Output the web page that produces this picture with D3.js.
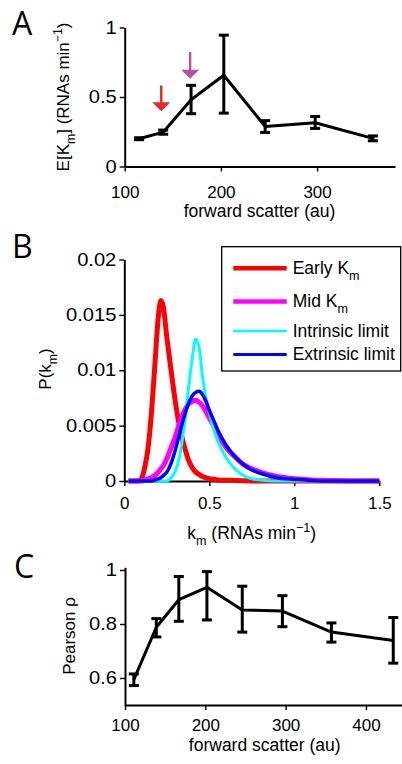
<!DOCTYPE html>
<html>
<head>
<meta charset="utf-8">
<script src="https://cdn.jsdelivr.net/npm/d3@7"></script>
<style>
  body { margin: 0; background: #fff; }
  svg { display: block; }
  text { font-family: "Liberation Sans", Arial, Helvetica, sans-serif; fill: #000; }
</style>
</head>
<body>
<svg id="fig" width="402" height="764"></svg>
<script>
'use strict'

// ---------------------------------------------------------------- DATA ----

// panel A : mean K_m vs forward scatter
const fsA   = [115, 140, 169, 203, 246, 298, 358]
const meanA = [0.200, 0.247, 0.480, 0.656, 0.288, 0.315, 0.202]
const loA   = [0.193, 0.232, 0.380, 0.384, 0.245, 0.274, 0.185]
const hiA   = [0.207, 0.262, 0.584, 0.945, 0.330, 0.360, 0.220]
const arrowX    = [138, 168]
const arrowFrom = [0.583, 0.824]
const arrowTo   = [0.398, 0.632]
const arrowColors = ['#e8262a', '#b5529e']

// panel B : distributions of k_m
const kGrid = [0.025, 0.05, 0.08, 0.1, 0.12, 0.14, 0.16, 0.18, 0.2, 0.215, 0.23, 0.25, 0.275,
  0.3, 0.325, 0.35, 0.375, 0.4, 0.42, 0.44, 0.46, 0.48, 0.5, 0.525, 0.55, 0.6, 0.65,
  0.7, 0.75, 0.8, 0.9, 1.0, 1.1, 1.2, 1.35, 1.5]
const pEarly = [0, 0, 0, 0.0002, 0.0012, 0.0030, 0.0062, 0.0105, 0.0148, 0.0163, 0.0157, 0.0130, 0.0100,
  0.0072, 0.0049, 0.0033, 0.0020, 0.0012, 0.0008, 0.0006, 0.0004, 0.0003, 0.0002, 0.00015, 0.0001, 0.00007, 0.00004,
  0.00002, 0, 0, 0, 0, 0, 0, 0, 0]
const pMid = [0, 0, 0, 0, 0.0001, 0.0002, 0.0003, 0.0005, 0.0008, 0.0011, 0.0014, 0.0020, 0.0030,
  0.0040, 0.0052, 0.0062, 0.0069, 0.0072, 0.0073, 0.0071, 0.0068, 0.0063, 0.0057, 0.0050, 0.0042, 0.0030, 0.0022,
  0.0015, 0.0011, 0.0008, 0.0004, 0.0002, 0.0001, 0.00005, 0, 0]
const pIntrinsic = [0, 0, 0, 0, 0, 0, 0, 0, 0, 0, 0, 0, 0.0003,
  0.0009, 0.0022, 0.0047, 0.0080, 0.0111, 0.0128, 0.0121, 0.0094, 0.0075, 0.0062, 0.0047, 0.0036, 0.0021, 0.0011,
  0.0005, 0.0002, 0.0001, 0, 0, 0, 0, 0, 0]
const pExtrinsic = [0, 0, 0, 0, 0, 0, 0, 0.0001, 0.0002, 0.0003, 0.0005, 0.0008, 0.0016,
  0.0028, 0.0043, 0.0057, 0.0069, 0.0077, 0.0080, 0.0081, 0.0078, 0.0072, 0.0064, 0.0055, 0.0046, 0.0032, 0.0022,
  0.0015, 0.0010, 0.0007, 0.0003, 0.00015, 0.00005, 0, 0, 0]
const seriesNames  = ['Early K', 'Mid K', 'Intrinsic limit', 'Extrinsic limit']
const seriesSubs   = ['m', 'm', '', '']
const seriesColors = ['#ff0000', '#ff00ff', '#00ffff', '#0000ff']
const seriesWidths = [5, 5, 3, 3.5]

// panel C : Pearson rho vs forward scatter
const fsC  = [111, 139, 167, 202, 246, 296, 357, 434]
const rhoC = [0.594, 0.788, 0.890, 0.936, 0.852, 0.848, 0.770, 0.739]
const loC  = [0.572, 0.752, 0.810, 0.815, 0.770, 0.790, 0.733, 0.655]
const hiC  = [0.615, 0.820, 0.976, 0.994, 0.940, 0.905, 0.804, 0.824]

// ---------------------------------------------------------------- SETUP ---

const svg = d3.select('#fig')
const fmt = d3.format('~g')

function drawAxes(g, x, y, o) {
  let xg = g.append('g').attr('transform', 'translate(0,' + y.range()[0] + ')')
  xg.call(d3.axisBottom(x).tickValues(o.xMinor).tickSize(2.5).tickFormat(''))
  xg.select('.domain').remove()
  xg.call(d3.axisBottom(x).tickValues(o.xTicks).tickSize(5).tickSizeOuter(0)
    .tickPadding(o.xPad).tickFormat(fmt))

  let yg = g.append('g').attr('transform', 'translate(' + x.range()[0] + ',0)')
  yg.call(d3.axisLeft(y).tickValues(o.yMinor).tickSize(2.5).tickFormat(''))
  yg.select('.domain').remove()
  yg.call(d3.axisLeft(y).tickValues(o.yTicks).tickSize(5).tickSizeOuter(0)
    .tickPadding(3).tickFormat(fmt))

  g.selectAll('.domain').attr('stroke', '#000').attr('stroke-width', 2)
  g.selectAll('.tick line').attr('stroke', '#000').attr('stroke-width', 1.4)
  g.selectAll('.tick text').style('font-size', '17px')
    .style('font-family', '"Liberation Sans", Arial, sans-serif').attr('fill', '#000')

  // y tick labels are drawn a little wider in the original
  let s = 1.15
  yg.selectAll('.tick text').style('font-size', '17.5px')
    .attr('transform', 'scale(' + s + ',1)').attr('x', -8 / s)
}

// text with sub / superscript pieces: [text, 'sub'|'sup'|'']
function richText(t, parts, size) {
  let shift = 0
  parts.forEach(p => {
    let target = p[1] == 'sub' ? 6 : p[1] == 'sup' ? -7 : 0
    t.append('tspan')
      .attr('dy', target - shift)
      .style('font-size', p[1] ? (size * 0.72) + 'px' : size + 'px')
      .text(p[0])
    shift = target
  })
}

function errorPanel(g, x, y, xs, mean, lo, hi) {
  let pts = xs.map((v, i) => ({ x: v, m: mean[i], lo: lo[i], hi: hi[i] }))
  g.append('path').datum(pts)
    .attr('fill', 'none').attr('stroke', '#000').attr('stroke-width', 3)
    .attr('stroke-linejoin', 'round')
    .attr('d', d3.line().x(d => x(d.x)).y(d => y(d.m)))
  let eb = g.selectAll('.eb').data(pts).enter().append('g')
    .attr('stroke', '#000').attr('stroke-width', 3)
  eb.append('line').attr('x1', d => x(d.x)).attr('x2', d => x(d.x))
    .attr('y1', d => y(d.lo)).attr('y2', d => y(d.hi))
  eb.append('line').attr('x1', d => x(d.x) - 5).attr('x2', d => x(d.x) + 5)
    .attr('y1', d => y(d.lo)).attr('y2', d => y(d.lo))
  eb.append('line').attr('x1', d => x(d.x) - 5).attr('x2', d => x(d.x) + 5)
    .attr('y1', d => y(d.hi)).attr('y2', d => y(d.hi))
}

function panelLetter(txt, x, y) {
  svg.append('text').attr('x', x).attr('y', y)
    .style('font-family', '"Open Sans", "DejaVu Sans", sans-serif')
    .style('font-size', '32px').text(txt)
}

// ------------------------------------------------------------- PANEL A ----

const xA = d3.scaleLinear().domain([100, 381]).range([124.7, 395])
const yA = d3.scaleLinear().domain([0, 1]).range([166.5, 27.5])
const gA = svg.append('g')

drawAxes(gA, xA, yA, {
  xTicks: [100, 200, 300], xMinor: d3.range(100, 381, 10), xPad: 14,
  yTicks: [0, 0.5, 1], yMinor: d3.range(0, 1.001, 0.05)
})
errorPanel(gA, xA, yA, fsA, meanA, loA, hiA)

arrowX.forEach((ax, i) => {
  let px = xA(ax), y0 = yA(arrowFrom[i]), y1 = yA(arrowTo[i])
  gA.append('line').attr('x1', px).attr('x2', px).attr('y1', y0).attr('y2', y1 - 8)
    .attr('stroke', arrowColors[i]).attr('stroke-width', 2.4)
  gA.append('path')
    .attr('d', 'M' + (px - 9) + ',' + (y1 - 9) + 'L' + (px + 9) + ',' + (y1 - 9) + 'L' + px + ',' + y1 + 'Z')
    .attr('fill', arrowColors[i])
})

gA.append('text').attr('x', 259.5).attr('y', 217).attr('text-anchor', 'middle')
  .style('font-size', '17.5px').text('forward scatter (au)')
richText(gA.append('text').attr('transform', 'translate(68.5,97) rotate(-90)')
  .attr('text-anchor', 'middle'),
  [['E[K', ''], ['m', 'sub'], ['] (RNAs min', ''], ['\u22121', 'sup'], [')', '']], 17)
panelLetter('A', 12, 35)

// ------------------------------------------------------------- PANEL B ----

const xB = d3.scaleLinear().domain([0, 1.5]).range([124.3, 379.3])
const yB = d3.scaleLinear().domain([0, 0.02]).range([481, 259.5])
const gB = svg.append('g')

drawAxes(gB, xB, yB, {
  xTicks: [0, 0.5, 1, 1.5], xMinor: d3.range(0, 1.5001, 0.05), xPad: 11,
  yTicks: [0, 0.005, 0.01, 0.015, 0.02], yMinor: d3.range(0, 0.02001, 0.0005)
})

const curves = [pEarly, pMid, pIntrinsic, pExtrinsic]
const kLine = d3.line().curve(d3.curveMonotoneX).x(d => xB(d[0])).y(d => yB(d[1]))
curves.forEach((vals, i) => {
  gB.append('path').datum(kGrid.map((k, j) => [k, vals[j]]))
    .attr('fill', 'none').attr('stroke', seriesColors[i])
    .attr('stroke-width', seriesWidths[i]).attr('stroke-linejoin', 'round')
    .attr('d', kLine)
})

// legend
const leg = gB.append('g')
leg.append('rect').attr('x', 221.7).attr('y', 246.7).attr('width', 179).attr('height', 124.3)
  .attr('fill', '#fff').attr('stroke', '#000').attr('stroke-width', 1.3)
const legRows = [268.3, 301.5, 331, 354.5]
seriesNames.forEach((name, i) => {
  leg.append('line').attr('x1', 233.3).attr('x2', 286.7)
    .attr('y1', legRows[i]).attr('y2', legRows[i])
    .attr('stroke', seriesColors[i]).attr('stroke-width', seriesWidths[i] - 0.5)
  let parts = [[name, '']]
  if (seriesSubs[i]) parts.push([seriesSubs[i], 'sub'])
  richText(leg.append('text').attr('x', 292.7).attr('y', legRows[i] + 5.5), parts, 17.5)
})

richText(gB.append('text').attr('x', 251.7).attr('y', 538.5).attr('text-anchor', 'middle'),
  [['k', ''], ['m', 'sub'], [' (RNAs min', ''], ['\u22121', 'sup'], [')', '']], 17.5)
richText(gB.append('text').attr('transform', 'translate(50.5,369) rotate(-90)')
  .attr('text-anchor', 'middle'),
  [['P(k', ''], ['m', 'sub'], [')', '']], 17)
panelLetter('B', 12, 258)

// ------------------------------------------------------------- PANEL C ----

const xC = d3.scaleLinear().domain([100, 448]).range([125, 404.5])
const yC = d3.scaleLinear().domain([0.5, 1.01]).range([705, 567.3])
const gC = svg.append('g')

drawAxes(gC, xC, yC, {
  xTicks: [100, 200, 300, 400], xMinor: d3.range(100, 448, 10), xPad: 9,
  yTicks: [0.6, 0.8, 1], yMinor: d3.range(0.5, 1.001, 0.02)
})
errorPanel(gC, xC, yC, fsC, rhoC, loC, hiC)

gC.append('text').attr('x', 264.7).attr('y', 751).attr('text-anchor', 'middle')
  .style('font-size', '17.5px').text('forward scatter (au)')
gC.append('text').attr('transform', 'translate(75,636) rotate(-90)')
  .attr('text-anchor', 'middle').style('font-size', '17px').text('Pearson \u03c1')
panelLetter('C', 14, 578)
</script>
</body>
</html>
